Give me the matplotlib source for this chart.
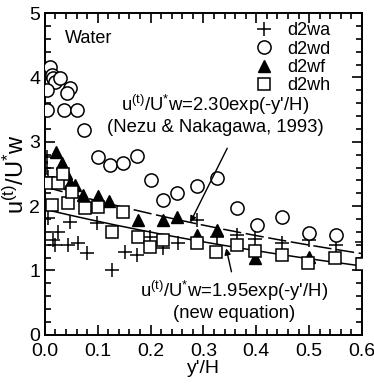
import numpy as np
import matplotlib
matplotlib.use('Agg')
from matplotlib import pyplot as plt
from matplotlib.ticker import MultipleLocator

plt.rcParams['font.family'] = ['Liberation Sans', 'DejaVu Sans']
plt.rcParams['mathtext.fontset'] = 'custom'
plt.rcParams['mathtext.rm'] = 'Liberation Sans'
plt.rcParams['mathtext.it'] = 'Liberation Sans'

# d2wa (+)
wa_x = [0.004, 0.004, 0.006, 0.006, 0.025, 0.015, 0.019, 0.047, 0.044, 0.063, 0.079,
        0.098, 0.127, 0.151, 0.174, 0.199, 0.223, 0.252, 0.288, 0.325, 0.363,
        0.397, 0.449, 0.500, 0.551, 0.600]
wa_y = [2.76, 2.60, 1.82, 2.45, 1.60, 1.48, 1.40, 1.75, 1.40, 1.43, 1.27,
        1.74, 1.01, 1.29, 1.24, 1.52, 1.35, 1.43, 1.79, 1.52, 1.55,
        1.49, 1.43, 1.48, 1.40, 1.44]
# d2wd (o)
wd_x = [0.010, 0.013, 0.015, 0.019, 0.028, 0.004, 0.047, 0.042, 0.004, 0.036, 0.061,
        0.074, 0.100, 0.123, 0.148, 0.174, 0.200, 0.223, 0.250, 0.288, 0.325,
        0.363, 0.401, 0.449, 0.500, 0.551]
wd_y = [4.16, 4.04, 3.99, 3.93, 3.99, 3.80, 3.83, 3.76, 3.49, 3.49, 3.49,
        3.18, 2.76, 2.64, 2.67, 2.78, 2.41, 2.10, 2.20, 2.31, 2.44,
        1.97, 1.71, 1.83, 1.58, 1.55]
# d2wf (filled triangle)
wf_x = [0.021, 0.032, 0.040, 0.047, 0.057, 0.072, 0.100, 0.121, 0.176, 0.223,
        0.250, 0.288, 0.325, 0.397, 0.500, 0.600]
wf_y = [2.84, 2.67, 2.52, 2.36, 2.33, 2.17, 2.16, 2.08, 1.78, 1.78,
        1.83, 1.55, 1.63, 1.20, 1.21, 1.16]
# d2wh (open square)
wh_x = [0.004, 0.013, 0.025, 0.035, 0.044, 0.051, 0.076, 0.100, 0.127, 0.148,
        0.176, 0.199, 0.223, 0.288, 0.324, 0.363, 0.397, 0.449, 0.498, 0.549, 0.600]
wh_y = [2.36, 2.02, 2.36, 2.50, 2.05, 2.22, 1.97, 1.99, 1.60, 1.91,
        1.52, 1.37, 1.48, 1.43, 1.29, 1.40, 1.30, 1.24, 1.12, 1.20, 1.10]

# fitted equations
nezu_coef = 2.30
new_coef = 1.95
yh = np.linspace(0, 0.6, 200)

fig = plt.figure(figsize=(3.74, 3.84), dpi=100)
ax = fig.add_axes([0.120, 0.128, 0.848, 0.838])

ax.plot(wa_x, wa_y, '+', color='black', ms=10, mew=1.1, label='d2wa', zorder=3)
ax.plot(wd_x, wd_y, 'o', mfc='white', mec='black', ms=9.5, mew=1.1, label='d2wd', zorder=3)
ax.plot(wf_x, wf_y, '^', color='black', ms=8.5, label='d2wf', zorder=3)
ax.plot(wh_x, wh_y, 's', mfc='white', mec='black', ms=8.5, mew=1.1, label='d2wh', zorder=3)

ax.plot(yh, nezu_coef * np.exp(-yh), color='black', lw=1.1, ls=(0, (12, 3)), zorder=2)
ax.plot(yh, new_coef * np.exp(-yh), color='black', lw=1.1, zorder=2)

# equation labels
ax.text(0.322, 3.43, "u$^{(t)}$/U$^{*}$w=2.30exp(-y'/H)\n(Nezu & Nakagawa, 1993)",
        ha='center', va='center', fontsize=13.3, linespacing=1.15)
ax.annotate('', xy=(0.275, nezu_coef * np.exp(-0.275)), xytext=(0.345, 2.90),
            arrowprops=dict(arrowstyle='-|>', color='black', lw=1.0,
                            shrinkA=0, shrinkB=0, mutation_scale=9))
ax.text(0.358, 0.54, "u$^{(t)}$/U$^{*}$w=1.95exp(-y'/H)\n(new equation)",
        ha='center', va='center', fontsize=13.3, linespacing=1.15)
ax.annotate('', xy=(0.343, new_coef * np.exp(-0.343) - 0.04), xytext=(0.353, 0.98),
            arrowprops=dict(arrowstyle='-|>', color='black', lw=1.0,
                            shrinkA=0, shrinkB=0, mutation_scale=9))

ax.text(0.038, 4.6, 'Water', fontsize=13, va='center')

ax.set_xlim(0, 0.6)
ax.set_ylim(0, 5)
ax.set_xticks(np.arange(0, 0.61, 0.1))
ax.set_xticklabels([f'{v:.1f}' for v in np.arange(0, 0.61, 0.1)])
ax.xaxis.set_minor_locator(MultipleLocator(0.02))
ax.yaxis.set_major_locator(MultipleLocator(1))
ax.yaxis.set_minor_locator(MultipleLocator(0.2))
ax.tick_params(which='both', direction='in', top=True, right=True, width=1.2, labelsize=14)
ax.tick_params(which='major', length=7)
ax.tick_params(which='minor', length=4)
ax.tick_params(axis='x', pad=6)
for s in ax.spines.values():
    s.set_linewidth(1.4)

ax.set_xlabel("y'/H", fontsize=14, labelpad=0)
ax.set_ylabel("u$^{(t)}$/U$^{*}$w", fontsize=17, labelpad=0)

ax.legend(loc='upper right', frameon=False, fontsize=13, handlelength=1.0,
          handletextpad=0.8, labelspacing=0.08, borderaxespad=0.1,
          bbox_to_anchor=(0.93, 1.0))

fig.savefig('out.png', dpi=100)
